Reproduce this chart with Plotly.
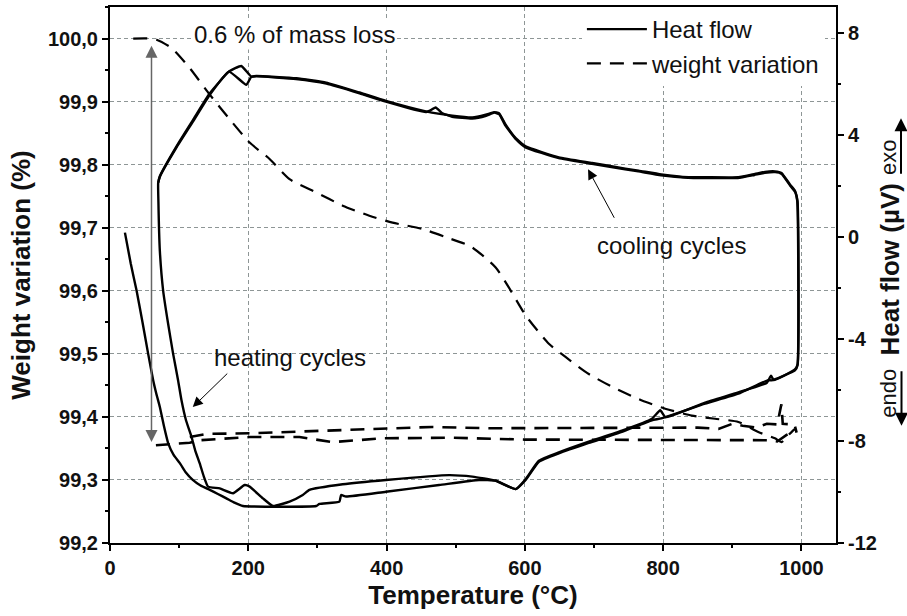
import plotly.graph_objects as go

# ---------------- data ----------------
# Heat flow, cycle 1: first heating (from room temperature) then cooling
hf1_temp = [21.6, 30, 38.5, 47, 55.2, 62.5, 67, 72.1, 78, 84.1, 92, 101, 110, 119.7, 131, 144.3,
            156, 168.3, 180, 192.3, 298.2,
            302.9, 331.8, 334.2, 341.4, 399.1, 476, 533.7, 557.8, 586.7, 601.1, 620.3,
            649.1, 692.4, 740.4, 783.7, 797.3, 860.7, 908.8, 952, 956.8, 990.6, 994.3,
            994.0, 990.6, 983.3, 971.2, 961.7, 947.3, 932.8, 908.8, 860.7, 836.7, 797.3,
            764.5, 745.3, 697.2, 649.1, 601.1, 586.7, 572.2, 562.6, 555.4, 543.4, 524.1,
            495.2, 456.8, 399.1, 360.6, 312.6, 269.3, 211.6, 204.4, 189.9, 172.1, 144.3,
            120.2, 96.2, 72.1, 69.7]
hf1_val = [0.16, -1.05, -2.12, -3.35, -4.59, -5.63, -6.15, -6.67, -7.42, -8.09, -8.55, -8.87,
           -9.25, -9.53, -9.75, -9.92, -10.08, -10.25, -10.42, -10.55, -10.55,
           -10.47, -10.38, -10.12, -10.18, -9.99, -9.73, -9.53, -9.56, -9.89, -9.53, -8.82,
           -8.49, -8.08, -7.65, -7.19, -7.12, -6.54, -6.15, -5.62, -5.63, -5.24, -5.04,
           1.39, 1.80, 2.05, 2.50, 2.56, 2.54, 2.46, 2.33, 2.33, 2.33, 2.44,
           2.59, 2.67, 2.89, 3.11, 3.54, 3.86, 4.39, 4.84, 4.88, 4.78, 4.67,
           4.74, 4.91, 5.32, 5.65, 6.04, 6.21, 6.30, 6.27, 6.69, 6.47, 5.62,
           4.58, 3.54, 2.37, 2.11]

# Heat flow, cycle 2: second heating then cooling
hf2_temp = [69.7, 70.0, 72.1, 76.9, 84, 91.3, 98.5, 103.4, 110, 117.9, 123.5, 129.8, 135.5, 141.8,
            158.7, 177.9,
            194.7, 202, 221.1, 235.6, 259.7, 278.8, 288.5, 336.5, 399.1, 490.5, 524.1,
            557.8, 586.7, 601.1, 620.3, 649.1, 692.4, 740.4, 783.7, 795.8, 803.5, 860.7,
            908.8, 950, 956, 960, 990.6, 994.5,
            994.3, 991, 983.8, 971.5, 962, 947, 932, 908, 860, 836, 797, 764, 745, 697,
            649, 601, 587, 572, 563, 556, 544, 524, 495, 480, 471, 462, 457, 399, 361,
            313, 269, 212, 204.4, 197.2, 172.1, 144.3, 120.2, 96.2, 72.1, 69.7]
hf2_val = [2.11, 1.39, -0.56, -2.12, -3.40, -4.59, -5.63, -6.41, -7.20, -7.84, -8.40, -8.88,
           -9.38, -9.79, -9.86, -10.05,
           -9.73, -9.79, -10.25, -10.55, -10.38, -10.12, -9.92, -9.70, -9.53, -9.34, -9.40,
           -9.56, -9.89, -9.50, -8.78, -8.45, -8.03, -7.60, -7.13, -6.80, -7.07, -6.50,
           -6.10, -5.72, -5.45, -5.62, -5.20, -5.00,
           1.39, 1.75, 2.00, 2.46, 2.53, 2.50, 2.42, 2.30, 2.30, 2.31, 2.41, 2.56, 2.64, 2.86,
           3.08, 3.50, 3.82, 4.35, 4.80, 4.86, 4.74, 4.63, 4.70, 4.85, 5.06, 4.93, 4.88, 5.29,
           5.62, 6.00, 6.18, 6.28, 6.27, 5.95, 6.47, 5.56, 4.52, 3.50, 2.35, 2.11]

# Weight variation, first heating (mass loss)
w1_temp = [33.6, 57, 67.4, 89.0, 115.4, 144.3, 173.1, 202.0, 230.8, 259.7, 298.2, 336.5,
           375.1, 408.7, 451.9, 485.7, 522, 557.8, 577.0, 601.1, 634.7, 658.8, 692.4,
           730.9, 769.3, 803.0, 841.4, 875.1, 908.8, 937.6, 961.7, 971.2, 980.9, 990.6]
w1_val = [100.000, 100.000, 99.998, 99.985, 99.953, 99.911, 99.872, 99.835, 99.809, 99.777,
          99.756, 99.735, 99.719, 99.708, 99.698, 99.685, 99.670, 99.637, 99.605, 99.561,
          99.516, 99.495, 99.468, 99.445, 99.426, 99.413, 99.402, 99.397, 99.392, 99.376,
          99.366, 99.360, 99.371, 99.381]

# Weight variation, following cycles (upper and lower traces)
w2_temp = [115.4, 139.5, 202, 274, 322, 394, 466, 550, 650, 760, 850, 880, 900, 915,
           935, 950, 965, 971, 973, 990, 993]
w2_val = [99.368, 99.373, 99.374, 99.377, 99.379, 99.381, 99.384, 99.382, 99.382, 99.383,
          99.383, 99.381, 99.389, 99.386, 99.383, 99.389, 99.388, 99.420, 99.389, 99.388,
          99.375]
w3_temp = [66.4, 115.4, 129.8, 202, 274, 322, 394, 490, 600, 700, 800, 900, 950, 965,
           978, 990]
w3_val = [99.355, 99.359, 99.363, 99.368, 99.368, 99.360, 99.366, 99.367, 99.364, 99.364,
          99.364, 99.364, 99.363, 99.361, 99.371, 99.378]

# Axis ticks
x_ticks = [0, 200, 400, 600, 800, 1000]
x_ticktext = ["0", "200", "400", "600", "800", "1000"]
w_ticks = [99.2, 99.3, 99.4, 99.5, 99.6, 99.7, 99.8, 99.9, 100.0]
w_ticktext = ["99,2", "99,3", "99,4", "99,5", "99,6", "99,7", "99,8", "99,9", "100,0"]
hf_ticks = [-12, -8, -4, 0, 4, 8]
hf_ticktext = ["-12", "-8", "-4", "0", "4", "8"]

# ---------------- figure ----------------
FONT = "Liberation Sans, Arial, sans-serif"
INK = "#111111"
GRID = "#8e9696"
DASH = "14px,9px"

fig = go.Figure()
fig.add_trace(go.Scatter(x=hf1_temp, y=hf1_val, mode="lines", yaxis="y2",
                         line=dict(color="black", width=2.4, shape="spline", smoothing=0.4),
                         name="Heat flow", legendgroup="hf", showlegend=True))
fig.add_trace(go.Scatter(x=hf2_temp, y=hf2_val, mode="lines", yaxis="y2",
                         line=dict(color="black", width=2.4, shape="spline", smoothing=0.4),
                         name="Heat flow", legendgroup="hf", showlegend=False))
fig.add_trace(go.Scatter(x=w1_temp, y=w1_val, mode="lines", yaxis="y",
                         line=dict(color="black", width=2.2, dash=DASH, shape="spline", smoothing=0.6),
                         name="weight variation", legendgroup="w", showlegend=True))
fig.add_trace(go.Scatter(x=w2_temp, y=w2_val, mode="lines", yaxis="y",
                         line=dict(color="black", width=2.6, dash=DASH),
                         name="weight variation", legendgroup="w", showlegend=False))
fig.add_trace(go.Scatter(x=w3_temp, y=w3_val, mode="lines", yaxis="y",
                         line=dict(color="black", width=2.6, dash=DASH),
                         name="weight variation", legendgroup="w", showlegend=False))

tickfont = dict(family=FONT, size=20, color=INK, weight="bold")

fig.update_layout(
    width=907, height=616,
    margin=dict(l=110, r=71, t=5, b=73),
    paper_bgcolor="white", plot_bgcolor="white",
    font=dict(family=FONT, color=INK),
    xaxis=dict(range=[0, 1050], tickmode="array", tickvals=x_ticks, ticktext=x_ticktext,
               showline=True, linecolor="black", linewidth=2, mirror=True,
               ticks="outside", ticklen=6, tickwidth=2, tickcolor="black",
               tickfont=tickfont, zeroline=False,
               showgrid=True, gridcolor=GRID, gridwidth=1, griddash="4px,3px",
               minor=dict(tickmode="linear", tick0=0, dtick=100, ticks="outside",
                          ticklen=3, tickwidth=1.5, tickcolor="black", showgrid=False),
               title=dict(text="<b>Temperature (°C)</b>", font=dict(family=FONT, size=26, color=INK),
                          standoff=8)),
    yaxis=dict(range=[99.2, 100.05], tickmode="array", tickvals=w_ticks, ticktext=w_ticktext,
               showline=True, linecolor="black", linewidth=2,
               ticks="outside", ticklen=6, tickwidth=2, tickcolor="black",
               tickfont=tickfont, zeroline=False,
               showgrid=True, gridcolor=GRID, gridwidth=1, griddash="4px,3px",
               minor=dict(tickmode="linear", tick0=99.2, dtick=0.05, ticks="outside",
                          ticklen=3, tickwidth=1.5, tickcolor="black", showgrid=False),
               title=dict(text="<b>Weight variation (%)</b>", font=dict(family=FONT, size=26, color=INK),
                          standoff=10)),
    yaxis2=dict(range=[-12, 9], overlaying="y", side="right", tickmode="array",
                tickvals=hf_ticks, ticktext=hf_ticktext,
                showline=True, linecolor="black", linewidth=2,
                ticks="outside", ticklen=6, tickwidth=2, tickcolor="black",
                tickfont=tickfont, zeroline=False, showgrid=False,
                minor=dict(tickmode="linear", tick0=-12, dtick=2, ticks="outside",
                           ticklen=3, tickwidth=1.5, tickcolor="black", showgrid=False)),
    legend=dict(x=0.650, y=1.0, xanchor="left", yanchor="top", bgcolor="white",
                font=dict(family=FONT, size=24, color=INK), itemwidth=60,
                borderwidth=0, tracegroupgap=0),
    showlegend=True,
)

ann_font = dict(family=FONT, size=24, color=INK)
annotations = [
    dict(x=266.9, y=100.007, xref="x", yref="y", text="0.6 % of mass loss", showarrow=False,
         font=ann_font, bgcolor="white"),
    dict(x=60, y=99.36, ax=60, ay=99.991, xref="x", yref="y", axref="x", ayref="y", text="",
         showarrow=True, arrowside="end+start", arrowhead=2, startarrowhead=2,
         arrowsize=1.6, startarrowsize=1.6, arrowwidth=1.5, arrowcolor="#666666",
         standoff=0, startstandoff=0),
    dict(x=259.7, y=99.4946, xref="x", yref="y", text="heating cycles", showarrow=False,
         font=ann_font),
    dict(x=119.7, y=99.4155, xref="x", yref="y", ax=36, ay=-35, text="", showarrow=True,
         arrowhead=2, arrowsize=2, arrowwidth=1, arrowcolor="black", standoff=0),
    dict(x=812.1, y=99.6714, xref="x", yref="y", text="cooling cycles", showarrow=False,
         font=ann_font),
    dict(x=691.4, y=99.7927, xref="x", yref="y", ax=27, ay=50, text="", showarrow=True,
         arrowhead=2, arrowsize=2, arrowwidth=1, arrowcolor="black", standoff=0),
    # right axis title
    dict(x=(890 - 110) / 726, y=1 - (268.3 - 5) / 537.7, xref="paper", yref="paper",
         xanchor="center", yanchor="middle",
         text="<b>Heat flow (µV)</b>", textangle=-90, showarrow=False,
         font=dict(family=FONT, size=26, color=INK)),
    dict(x=(889 - 110) / 726, y=1 - (393 - 5) / 537.7, xref="paper", yref="paper",
         xanchor="center", yanchor="middle",
         text="endo", textangle=-90, showarrow=False, font=dict(family=FONT, size=22, color=INK)),
    dict(x=(888 - 110) / 726, y=1 - (156.5 - 5) / 537.7, xref="paper", yref="paper",
         xanchor="center", yanchor="middle",
         text="exo", textangle=-90, showarrow=False, font=dict(family=FONT, size=22, color=INK)),
    dict(x=(901 - 110) / 726, y=1 - (116.7 - 5) / 537.7, xref="paper", yref="paper",
         ax=0, ay=57, text="", showarrow=True, arrowhead=2, arrowsize=1.3, arrowwidth=2,
         arrowcolor="black", standoff=0),
    dict(x=(901.5 - 110) / 726, y=1 - (425 - 5) / 537.7, xref="paper", yref="paper",
         ax=0, ay=-56, text="", showarrow=True, arrowhead=2, arrowsize=1.3, arrowwidth=2,
         arrowcolor="black", standoff=0),
]
fig.update_layout(annotations=annotations)

fig.write_html("out.html")
